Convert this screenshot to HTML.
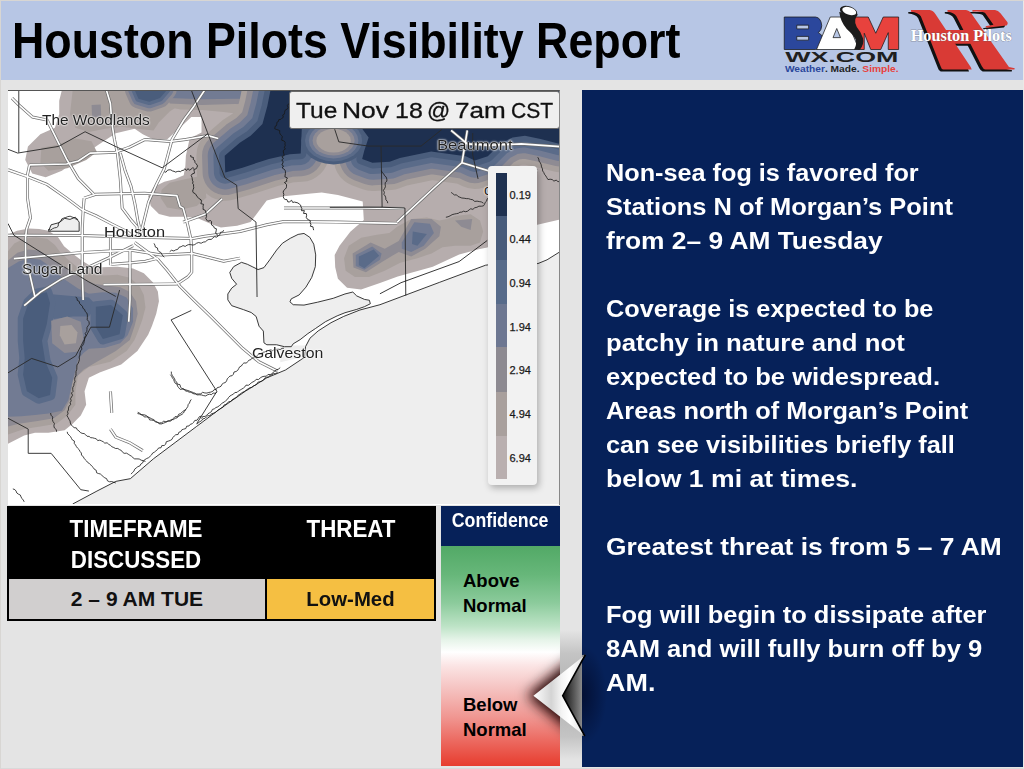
<!DOCTYPE html>
<html><head><meta charset="utf-8">
<style>
*{margin:0;padding:0;box-sizing:border-box}
html,body{width:1024px;height:769px;overflow:hidden;background:#e4e4e4;font-family:"Liberation Sans",sans-serif}
#frame{position:absolute;left:0;top:0;width:1024px;height:769px;border:1px solid #d8d6d3;border-right-color:#ebe9e6;border-bottom-color:#d9d9d9}
#hdr{position:absolute;left:1px;top:1px;width:1022px;height:79px;background:#b7c6e5}
#title{position:absolute;left:11.8px;top:12px;font-size:50px;font-weight:bold;color:#000;white-space:nowrap;transform-origin:0 0;transform:scaleX(0.8955)}
#map{position:absolute;left:8px;top:90px;width:552px;height:415px;overflow:hidden;background:#fff}
#tbl{position:absolute;left:7px;top:506px;width:429px;height:115px;background:#000}
.th{position:absolute;color:#fff;font-weight:bold;font-size:23px;text-align:center;line-height:30.5px;transform:scaleX(0.972)}
.td{position:absolute;top:73px;height:40px;font-weight:bold;font-size:21px;text-align:center;line-height:40px;color:#111}
#conf{position:absolute;left:441px;top:506px;width:119px;height:260px;background:linear-gradient(#52a966 0%,#52a966 15.4%,#67b77a 26.5%,#8ccb9c 37.3%,#bde3c6 46.2%,#e6f4e9 51.5%,#ffffff 56.2%,#fbe4e4 61.5%,#f5c2c0 70.4%,#f09590 81.5%,#ec6b62 90%,#e73c2e 100%)}
#confh{position:absolute;left:0;top:0;width:119px;height:40px;background:#062159;color:#fff;font-weight:bold;font-size:19.5px;text-align:center;line-height:29.4px}
#confh span{display:inline-block;transform:scaleX(0.91)}
.cl{position:absolute;left:22px;font-weight:bold;font-size:18.5px;line-height:24.8px;color:#000}
#panel{position:absolute;left:582px;top:90px;width:441px;height:676.6px;background:#062159}
#ptext{position:absolute;left:24px;top:66px;color:#fff;font-weight:bold;font-size:24.5px;line-height:34px;white-space:nowrap}
#ptext div{height:34px;transform-origin:0 50%}

#datebox{position:absolute;left:289px;top:91px;width:271px;height:38px;background:#efefef;border:1px solid #6a6a6a;border-radius:3px}
#datebox span{position:absolute;top:6.3px;font-size:22.3px;color:#111;white-space:nowrap;transform-origin:0 0;-webkit-text-stroke:0.3px #111}
#legend{position:absolute;left:488px;top:166px;width:49px;height:319px;background:#f2f2f2;border-radius:4px;box-shadow:2px 3px 7px rgba(0,0,0,0.28)}
#legend .seg{position:absolute;left:7.5px;width:11px}
#legend .lab{position:absolute;left:21.5px;font-size:11px;color:#1a1a1a;line-height:12px;-webkit-text-stroke:0.25px #1a1a1a}
.city{position:absolute;font-size:14.5px;color:#222;white-space:nowrap;text-shadow:0 0 2px #fff,0 0 2px #fff,0 0 1px #fff;transform-origin:0 0}
#mapline{position:absolute;left:8px;top:90px;width:552px;height:415px;border-top:1px solid #555;border-right:1px solid #888;pointer-events:none}
</style></head><body>
<div id="frame"></div>
<div id="hdr"></div>

<svg id="bam" width="128" height="76" viewBox="0 0 1024 608" style="position:absolute;left:778px;top:2px">
<path d="M50 120 H300 Q345 125 350 190 Q348 228 322 245 Q362 262 362 320 Q358 376 300 380 H50 Z M150 185 V215 H245 V185 Z M150 275 V305 H245 V275 Z" fill="#2b479c" fill-rule="evenodd" stroke="#1a1a1a" stroke-width="6"/>
<path d="M308 380 L418 120 L540 120 L648 380 Z M440 285 L470 212 L500 285 Z" fill="#ffffff" fill-rule="evenodd" stroke="#1a1a1a" stroke-width="6"/>
<path d="M605 120 H722 L782 250 L842 120 H965 V380 H882 V245 L822 380 H742 L690 250 V380 H640 Z" fill="#e8423d" stroke="#1a1a1a" stroke-width="6"/>
<path d="M490 80 Q500 160 550 215 Q605 265 622 300 Q632 340 608 382 L655 382 Q692 335 680 290 Q665 240 630 200 Q612 170 618 140 Q628 112 640 100 Z" fill="#1c1c1c"/>
<ellipse cx="565" cy="75" rx="72" ry="40" transform="rotate(18 565 75)" fill="#1c1c1c"/>
<ellipse cx="570" cy="72" rx="58" ry="30" transform="rotate(18 570 72)" fill="#ffffff"/>
<text x="510" y="482" text-anchor="middle" font-family="Liberation Sans" font-weight="bold" font-size="124" fill="#1f1f1f" textLength="905" lengthAdjust="spacingAndGlyphs">WX.COM</text>
<text x="55" y="560" font-family="Liberation Sans" font-weight="bold" font-size="78" textLength="910" lengthAdjust="spacingAndGlyphs"><tspan fill="#2b479c">Weather</tspan><tspan fill="#1f1f1f">. Made. </tspan><tspan fill="#e8423d">Simple.</tspan></text>
</svg>
<svg id="hp" width="124" height="76" viewBox="0 0 1024 628" style="position:absolute;left:900px;top:2px">
<g transform="translate(-22,16)" fill="#111">
<path d="M90 66 L245 66 Q275 70 292 100 L585 540 L592 558 L358 558 Q342 556 335 530 L172 118 Q150 84 90 80 Z"/>
<path d="M392 66 L545 66 Q575 70 592 100 L900 538 L948 548 L945 558 L705 558 Q688 554 676 530 L466 118 Q445 84 392 80 Z"/>
<path d="M325 232 L600 232 L640 345 L375 345 Z"/>
<path d="M598 66 L785 66 Q810 70 830 92 L888 168 Q895 185 880 195 L718 212 L705 200 L772 188 L705 92 Q690 75 598 80 Z"/>
</g>
<g fill="#d93a35">
<path d="M90 66 L245 66 Q275 70 292 100 L585 540 L592 558 L358 558 Q342 556 335 530 L172 118 Q150 84 90 80 Z"/>
<path d="M392 66 L545 66 Q575 70 592 100 L900 538 L948 548 L945 558 L705 558 Q688 554 676 530 L466 118 Q445 84 392 80 Z"/>
<path d="M325 232 L600 232 L640 345 L375 345 Z"/>
<path d="M598 66 L785 66 Q810 70 830 92 L888 168 Q895 185 880 195 L718 212 L705 200 L772 188 L705 92 Q690 75 598 80 Z"/>
</g>
<text x="506" y="322" text-anchor="middle" font-family="Liberation Serif" font-weight="bold" font-size="130" fill="#fff" stroke="#555" stroke-width="3" paint-order="stroke" textLength="835" lengthAdjust="spacingAndGlyphs">Houston Pilots</text>
</svg>

<div id="title">Houston Pilots Visibility Report</div>

<div id="map"><svg width="552" height="414" viewBox="0 0 1024 768" style="position:absolute;left:0;top:0">
<!--MAP_START-->
<polygon fill="#eeeeee" points="120.0,768.0 165.0,744.0 200.0,726.0 227.0,721.0 270.0,684.0 310.0,654.0 350.0,624.0 390.0,594.0 440.0,559.0 480.0,534.0 514.8,519.4 550.2,495.8 552.0,476.0 560.2,460.4 575.4,446.9 599.2,431.7 622.7,420.0 652.9,408.1 690.0,398.3 800.0,357.0 886.0,325.0 940.0,318.0 983.0,322.0 1000.0,315.0 1024.0,300.0 1024.0,768.0"/>
<polygon fill="#eeeeee" points="453.0,327.7 463.9,333.1 474.8,329.5 485.6,315.0 498.3,296.9 509.2,284.2 523.7,275.1 538.2,267.9 549.1,266.1 559.9,273.3 567.2,286.0 570.8,305.9 570.1,327.7 563.5,347.6 552.7,365.7 540.0,380.2 525.5,387.4 523.0,392.9 529.1,398.3 549.1,399.0 574.4,393.6 603.4,386.4 625.1,378.4 639.6,374.8 646.9,382.0 661.4,388.5 670.4,390.0 672.2,396.5 661.4,401.9 646.9,407.0 625.1,413.2 610.6,419.0 588.9,429.8 570.8,442.2 556.3,451.9 541.8,463.2 529.1,470.8 525.5,476.2 512.8,476.2 498.3,472.6 480.2,472.6 474.8,469.0 473.7,447.2 465.7,438.2 460.3,420.1 451.2,412.8 436.7,407.4 415.0,400.1 407.8,389.3 407.8,378.4 415.0,367.5 424.1,360.3 415.0,349.4 411.4,338.5 418.6,327.7 433.1,319.7 444.0,323.3"/>
<polygon fill="#eeeeee" points="505.0,474.0 553.0,474.0 550.2,495.8 531.0,499.0 505.0,505.0"/>
<polygon fill="#eeeeee" points="75.0,262.0 80.0,250.0 95.0,246.0 105.0,238.0 115.0,240.0 125.0,236.0 132.0,245.0 132.0,262.0"/>
<polygon fill="#b6adad" points="100.0,0.0 1024.0,0.0 1024.0,240.0 982.0,250.0 940.0,265.0 889.0,292.0 873.0,295.5 837.0,305.0 788.0,328.0 723.0,346.0 690.0,358.0 655.0,370.0 629.0,367.0 612.0,350.0 607.0,329.0 606.0,306.0 615.0,289.0 635.0,263.0 660.0,241.0 658.0,207.0 612.0,195.0 582.0,190.0 562.0,192.0 512.0,197.0 480.0,205.0 465.0,225.0 450.0,245.0 425.0,252.0 395.0,255.0 380.0,250.0 350.0,237.0 325.0,235.0 300.0,235.0 280.0,230.0 265.0,215.0 260.0,197.0 270.0,180.0 290.0,170.0 310.0,165.0 326.0,158.0 329.0,141.0 330.0,122.0 337.0,90.0 359.0,79.0 359.0,50.0 340.0,50.0 318.0,71.0 295.0,92.0 270.0,92.0 250.0,82.0 235.0,72.0 200.0,80.0 167.0,102.0 130.0,128.0 100.0,150.0 70.0,162.0 45.0,155.0 32.0,130.0 37.0,105.0 60.0,82.0 87.0,70.0 95.0,45.0 95.0,20.0"/>
<polygon fill="#b6adad" points="0.0,268.0 17.0,261.0 38.0,257.0 58.0,258.0 75.0,261.0 93.0,273.0 104.0,290.0 122.0,305.0 136.0,316.0 151.0,325.0 174.0,329.0 203.0,328.0 232.0,331.0 252.0,340.0 269.0,357.0 278.0,374.0 280.0,392.0 275.0,415.0 267.0,438.0 260.0,454.0 240.0,484.0 210.0,509.0 170.0,524.0 150.0,534.0 142.0,559.0 145.0,584.0 135.0,604.0 120.0,619.0 105.0,631.0 75.0,636.0 50.0,636.0 30.0,641.0 10.0,651.0 0.0,656.0"/>
<polygon fill="#a8a09d" points="62.0,107.0 90.0,102.0 125.0,90.0 155.0,95.0 165.0,115.0 145.0,130.0 110.0,145.0 75.0,150.0 60.0,135.0"/>
<polygon fill="#a8a09d" points="120.0,0.0 330.0,0.0 330.0,20.0 300.0,40.0 280.0,60.0 270.0,75.0 240.0,72.0 210.0,68.0 180.0,72.0 150.0,78.0 125.0,70.0 115.0,45.0"/>
<polygon fill="#a8a09d" points="285.0,185.0 300.0,172.0 330.0,165.0 355.0,160.0 365.0,175.0 368.0,200.0 350.0,215.0 320.0,222.0 295.0,218.0 283.0,200.0"/>
<polygon fill="#a8a09d" points="0.0,299.0 11.6,284.6 29.0,276.0 52.0,273.0 72.5,276.0 87.0,287.5 95.6,299.0 110.0,313.6 127.5,328.0 145.0,337.0 162.0,342.6 179.7,344.0 203.0,342.6 226.0,348.4 243.4,362.9 252.0,380.3 255.0,403.4 249.0,426.6 240.5,449.8 234.7,463.7 220.0,484.0 190.0,504.0 150.0,514.0 130.0,529.0 125.0,559.0 125.0,584.0 110.0,604.0 90.0,619.0 60.0,624.0 30.0,629.0 0.0,639.0"/>
<polygon fill="#a8a09d" points="623.4,311.9 632.1,288.7 655.3,274.2 684.3,268.4 707.5,265.5 721.9,253.9 748.0,239.4 777.0,236.5 800.2,242.3 814.7,239.4 829.2,233.6 858.2,230.7 875.6,242.3 881.4,262.6 875.6,282.9 858.2,288.7 829.2,288.7 806.0,291.6 785.7,303.2 759.6,311.9 727.7,320.6 698.8,335.1 669.8,346.7 643.7,346.7 626.3,335.1"/>
<polygon fill="#a8a09d" points="290.0,0.0 480.0,0.0 480.0,42.0 440.0,46.0 400.0,41.0 360.0,37.0 320.0,36.0 290.0,30.0"/>
<polygon fill="#8e8b93" points="290.0,0.0 480.0,0.0 480.0,27.0 420.0,26.0 360.0,28.0 300.0,25.0"/>
<polygon fill="#727b93" points="295.0,0.0 480.0,0.0 480.0,16.0 420.0,16.0 360.0,17.0 300.0,15.0"/>
<polygon fill="#a8a09d" stroke="#a8a09d" stroke-width="105.0" stroke-linejoin="round" points="403.0,153.0 402.0,122.0 430.0,98.0 450.0,85.0 472.0,63.0 481.0,30.0 487.0,0.0 1024.0,0.0 1024.0,100.0 988.0,91.0 959.0,85.0 936.0,88.0 913.0,100.0 890.0,123.0 866.0,131.0 849.0,123.0 785.0,114.0 727.0,126.0 708.0,133.0 676.0,135.0 657.0,128.0 661.0,112.0 669.0,88.0 657.0,72.0 545.0,72.0 543.0,118.0 523.0,119.0 484.0,128.0 435.0,144.0"/>
<polygon fill="#8e8b93" stroke="#8e8b93" stroke-width="84.0" stroke-linejoin="round" points="403.0,153.0 402.0,122.0 430.0,98.0 450.0,85.0 472.0,63.0 481.0,30.0 487.0,0.0 1024.0,0.0 1024.0,100.0 988.0,91.0 959.0,85.0 936.0,88.0 913.0,100.0 890.0,123.0 866.0,131.0 849.0,123.0 785.0,114.0 727.0,126.0 708.0,133.0 676.0,135.0 657.0,128.0 661.0,112.0 669.0,88.0 657.0,72.0 545.0,72.0 543.0,118.0 523.0,119.0 484.0,128.0 435.0,144.0"/>
<polygon fill="#727b93" stroke="#727b93" stroke-width="63.0" stroke-linejoin="round" points="403.0,153.0 402.0,122.0 430.0,98.0 450.0,85.0 472.0,63.0 481.0,30.0 487.0,0.0 1024.0,0.0 1024.0,100.0 988.0,91.0 959.0,85.0 936.0,88.0 913.0,100.0 890.0,123.0 866.0,131.0 849.0,123.0 785.0,114.0 727.0,126.0 708.0,133.0 676.0,135.0 657.0,128.0 661.0,112.0 669.0,88.0 657.0,72.0 545.0,72.0 543.0,118.0 523.0,119.0 484.0,128.0 435.0,144.0"/>
<polygon fill="#5a6b89" stroke="#5a6b89" stroke-width="42.0" stroke-linejoin="round" points="403.0,153.0 402.0,122.0 430.0,98.0 450.0,85.0 472.0,63.0 481.0,30.0 487.0,0.0 1024.0,0.0 1024.0,100.0 988.0,91.0 959.0,85.0 936.0,88.0 913.0,100.0 890.0,123.0 866.0,131.0 849.0,123.0 785.0,114.0 727.0,126.0 708.0,133.0 676.0,135.0 657.0,128.0 661.0,112.0 669.0,88.0 657.0,72.0 545.0,72.0 543.0,118.0 523.0,119.0 484.0,128.0 435.0,144.0"/>
<polygon fill="#4a5d7c" stroke="#4a5d7c" stroke-width="21.0" stroke-linejoin="round" points="403.0,153.0 402.0,122.0 430.0,98.0 450.0,85.0 472.0,63.0 481.0,30.0 487.0,0.0 1024.0,0.0 1024.0,100.0 988.0,91.0 959.0,85.0 936.0,88.0 913.0,100.0 890.0,123.0 866.0,131.0 849.0,123.0 785.0,114.0 727.0,126.0 708.0,133.0 676.0,135.0 657.0,128.0 661.0,112.0 669.0,88.0 657.0,72.0 545.0,72.0 543.0,118.0 523.0,119.0 484.0,128.0 435.0,144.0"/>
<polygon fill="#1e3050" points="403.0,153.0 402.0,122.0 430.0,98.0 450.0,85.0 472.0,63.0 481.0,30.0 487.0,0.0 1024.0,0.0 1024.0,100.0 988.0,91.0 959.0,85.0 936.0,88.0 913.0,100.0 890.0,123.0 866.0,131.0 849.0,123.0 785.0,114.0 727.0,126.0 708.0,133.0 676.0,135.0 657.0,128.0 661.0,112.0 669.0,88.0 657.0,72.0 545.0,72.0 543.0,118.0 523.0,119.0 484.0,128.0 435.0,144.0"/>
<polygon fill="#4a5d7c" points="664.0,94.0 662.0,105.4 656.0,116.0 646.4,125.1 634.0,132.1 619.5,136.5 604.0,138.0 588.5,136.5 574.0,132.1 561.6,125.1 552.0,116.0 546.0,105.4 544.0,94.0 546.0,82.6 552.0,72.0 561.6,62.9 574.0,55.9 588.5,51.5 604.0,50.0 619.5,51.5 634.0,55.9 646.4,62.9 656.0,72.0 662.0,82.6"/>
<polygon fill="#5a6b89" points="657.0,94.0 655.2,104.0 649.9,113.2 641.5,121.2 630.5,127.3 617.7,131.2 604.0,132.5 590.3,131.2 577.5,127.3 566.5,121.2 558.1,113.2 552.8,104.0 551.0,94.0 552.8,84.0 558.1,74.8 566.5,66.8 577.5,60.7 590.3,56.8 604.0,55.5 617.7,56.8 630.5,60.7 641.5,66.8 649.9,74.7 655.2,84.0"/>
<polygon fill="#727b93" points="650.0,94.0 648.4,102.5 643.8,110.5 636.5,117.3 627.0,122.6 615.9,125.9 604.0,127.0 592.1,125.9 581.0,122.6 571.5,117.3 564.2,110.5 559.6,102.5 558.0,94.0 559.6,85.5 564.2,77.5 571.5,70.7 581.0,65.4 592.1,62.1 604.0,61.0 615.9,62.1 627.0,65.4 636.5,70.7 643.8,77.5 648.4,85.5"/>
<polygon fill="#8e8b93" points="643.0,94.0 641.7,101.1 637.8,107.8 631.6,113.4 623.5,117.8 614.1,120.6 604.0,121.5 593.9,120.6 584.5,117.8 576.4,113.4 570.2,107.8 566.3,101.1 565.0,94.0 566.3,86.9 570.2,80.2 576.4,74.6 584.5,70.2 593.9,67.4 604.0,66.5 614.1,67.4 623.5,70.2 631.6,74.6 637.8,80.2 641.7,86.9"/>
<polygon fill="#a8a09d" points="636.0,94.0 634.9,99.7 631.7,105.0 626.6,109.6 620.0,113.1 612.3,115.3 604.0,116.0 595.7,115.3 588.0,113.1 581.4,109.6 576.3,105.0 573.1,99.7 572.0,94.0 573.1,88.3 576.3,83.0 581.4,78.4 588.0,74.9 595.7,72.7 604.0,72.0 612.3,72.7 620.0,74.9 626.6,78.4 631.7,83.0 634.9,88.3"/>
<polygon fill="#8e8b93" stroke="#8e8b93" stroke-width="36.0" stroke-linejoin="round" points="235.0,0.0 295.0,0.0 282.0,15.0 262.0,22.0 242.0,16.0"/>
<polygon fill="#727b93" stroke="#727b93" stroke-width="24.0" stroke-linejoin="round" points="235.0,0.0 295.0,0.0 282.0,15.0 262.0,22.0 242.0,16.0"/>
<polygon fill="#5a6b89" stroke="#5a6b89" stroke-width="12.0" stroke-linejoin="round" points="235.0,0.0 295.0,0.0 282.0,15.0 262.0,22.0 242.0,16.0"/>
<polygon fill="#4a5d7c" points="235.0,0.0 295.0,0.0 282.0,15.0 262.0,22.0 242.0,16.0"/>
<polygon fill="#8e8b93" points="155.0,28.0 172.0,27.0 173.0,50.0 156.0,50.0"/>
<polygon fill="#8e8b93" points="0.0,316.5 17.4,302.0 37.7,296.0 58.0,297.7 75.3,307.8 92.7,319.4 116.0,336.8 139.0,351.3 162.0,360.0 185.5,363.0 208.7,365.8 226.0,374.5 237.6,391.8 240.5,415.0 234.7,438.2 226.0,463.7 200.0,484.0 165.0,504.0 140.0,519.0 120.0,539.0 115.0,574.0 105.0,594.0 85.0,609.0 55.0,614.0 20.0,619.0 0.0,624.0"/>
<polygon fill="#727b93" points="0.0,330.0 20.0,318.0 40.0,312.0 60.0,315.0 75.0,325.0 90.0,340.0 110.0,355.0 130.0,368.0 150.0,378.0 175.0,375.0 200.0,376.0 220.0,385.0 232.0,405.0 232.0,430.0 222.0,455.0 208.0,470.0 180.0,478.0 150.0,480.0 140.0,488.0 130.0,500.0 120.0,540.0 112.0,575.0 100.0,595.0 75.0,600.0 50.0,603.0 25.0,605.0 0.0,606.0"/>
<polygon fill="#5a6b89" points="70.0,378.0 150.0,385.0 165.0,400.0 150.0,420.0 120.0,420.0 85.0,425.0 72.0,410.0"/>
<polygon fill="#5a6b89" stroke="#5a6b89" stroke-width="20" stroke-linejoin="round" points="28.0,424.0 38.0,395.0 55.0,378.0 72.0,375.0 78.0,395.0 72.0,434.0 63.0,465.0 69.0,503.0 82.0,534.0 78.0,566.0 57.0,572.0 35.0,559.0 28.0,528.0 31.0,497.0 28.0,465.0"/>
<polygon fill="#5a6b89" stroke="#5a6b89" stroke-width="20" stroke-linejoin="round" points="163.0,402.0 191.0,399.0 213.0,418.0 207.0,453.0 176.0,462.0 163.0,440.0"/>
<polygon fill="#4a5d7c" points="28.0,424.0 38.0,395.0 55.0,378.0 72.0,375.0 78.0,395.0 72.0,434.0 63.0,465.0 69.0,503.0 82.0,534.0 78.0,566.0 57.0,572.0 35.0,559.0 28.0,528.0 31.0,497.0 28.0,465.0"/>
<polygon fill="#4a5d7c" points="163.0,402.0 191.0,399.0 213.0,418.0 207.0,453.0 176.0,462.0 163.0,440.0"/>
<polygon fill="#8e8b93" points="80.0,428.0 110.0,420.0 135.0,430.0 140.0,460.0 132.0,485.0 105.0,488.0 82.0,470.0"/>
<polygon fill="#a8a09d" points="97.0,438.0 118.0,436.0 129.0,450.0 126.0,470.0 105.0,472.0 96.0,455.0"/>
<polygon fill="#8e8b93" points="639.3,303.2 672.7,282.9 698.8,294.5 724.8,280.0 748.0,239.4 785.7,239.4 803.1,253.9 800.2,271.3 774.1,294.5 748.0,309.0 724.8,300.3 695.9,317.7 664.0,338.0 640.8,329.3"/>
<polygon fill="#727b93" points="645.1,306.1 675.6,290.1 693.0,303.2 690.1,314.8 661.1,333.6 645.1,326.4"/>
<polygon fill="#727b93" points="730.6,282.9 753.8,245.2 782.8,248.1 790.1,265.5 771.2,288.7 748.0,300.3 730.6,294.5"/>
<polygon fill="#5a6b89" points="650.9,309.0 678.5,295.9 688.6,307.5 661.1,330.7 650.9,324.9"/>
<polygon fill="#5a6b89" points="750.9,262.6 777.0,266.9 759.6,288.7 749.5,285.8"/>
<polygon fill="#8e8b93" points="829.2,242.3 861.1,239.4 858.2,259.7 840.8,253.9"/>
<polyline points="7.5,15.0 20.0,27.5 45.0,50.0 72.5,55.6 94.2,99.1 108.7,128.1 130.4,164.4 159.4,193.3" fill="none" stroke="#6e6e6e" stroke-width="5.6" stroke-linejoin="round"/>
<polyline points="0.0,148.0 36.2,160.7 72.5,175.2 108.7,200.6 137.7,222.3 163.0,233.2 191.6,248.1 220.5,262.6 232.1,271.3" fill="none" stroke="#6e6e6e" stroke-width="5.6" stroke-linejoin="round"/>
<polyline points="182.5,0.0 190.0,25.0 192.5,60.0 197.5,91.9 203.0,117.0 208.3,164.6 211.8,219.1 229.2,242.3 239.4,253.9 240.8,274.2" fill="none" stroke="#6e6e6e" stroke-width="5.6" stroke-linejoin="round"/>
<polyline points="208.3,117.2 217.4,149.9 228.2,178.8 235.5,211.4 240.8,242.3 243.7,253.9" fill="none" stroke="#6e6e6e" stroke-width="5.6" stroke-linejoin="round"/>
<polyline points="365.0,0.0 345.0,30.0 326.0,55.6 304.3,91.9 289.8,146.2 275.3,175.2 260.8,207.8 249.5,253.9 243.7,274.2" fill="none" stroke="#6e6e6e" stroke-width="5.6" stroke-linejoin="round"/>
<polyline points="39.9,139.0 108.7,137.2 130.4,131.7 152.2,117.2 199.3,115.4 224.6,106.4 253.6,91.9 300.7,95.5 329.7,91.9 371.0,84.6 390.0,90.0" fill="none" stroke="#6e6e6e" stroke-width="5.6" stroke-linejoin="round"/>
<polyline points="39.9,139.0 36.2,157.1 36.2,200.6 41.7,236.8 34.4,258.5 32.6,273.0 32.6,334.0 40.0,340.0 50.0,384.0" fill="none" stroke="#6e6e6e" stroke-width="5.6" stroke-linejoin="round"/>
<polyline points="141.3,200.6 163.0,193.3 253.6,191.5 313.3,196.0 319.1,216.2 324.9,219.1 333.6,251.0 339.4,277.1 340.8,303.2 340.8,337.9 333.6,346.6 316.2,358.2" fill="none" stroke="#6e6e6e" stroke-width="5.6" stroke-linejoin="round"/>
<polyline points="141.3,200.6 139.5,222.3 137.7,258.5 137.7,333.9 139.4,389.5" fill="none" stroke="#6e6e6e" stroke-width="5.6" stroke-linejoin="round"/>
<polyline points="0.0,269.4 133.6,269.8 229.2,272.7 284.3,274.2 342.3,275.6 365.4,271.3 430.4,262.6 480.0,250.0 512.0,244.0 612.0,245.0 722.0,247.5" fill="none" stroke="#6e6e6e" stroke-width="5.6" stroke-linejoin="round"/>
<polyline points="722.0,245.0 792.0,180.0 842.0,135.0 848.0,100.0 852.0,75.0" fill="none" stroke="#6e6e6e" stroke-width="5.6" stroke-linejoin="round"/>
<polyline points="10.9,312.9 133.6,301.7 188.7,298.8 229.2,297.4 284.3,306.0 342.3,303.2 400.2,317.6 430.4,311.9" fill="none" stroke="#6e6e6e" stroke-width="5.6" stroke-linejoin="round"/>
<polyline points="190.1,274.2 190.1,324.9" fill="none" stroke="#6e6e6e" stroke-width="5.6" stroke-linejoin="round"/>
<polyline points="226.3,297.4 226.3,389.5 224.0,430.0" fill="none" stroke="#6e6e6e" stroke-width="5.6" stroke-linejoin="round"/>
<polyline points="235.0,282.9 278.5,314.8 295.9,335.0 319.0,364.0 345.0,390.0 375.0,419.0 410.0,454.0 435.0,479.0 465.0,504.0 500.0,521.5" fill="none" stroke="#6e6e6e" stroke-width="5.6" stroke-linejoin="round"/>
<polyline points="232.1,288.7 185.8,311.9 148.1,329.2 133.6,335.0 100.0,350.0 60.0,375.0 30.0,400.0" fill="none" stroke="#6e6e6e" stroke-width="5.6" stroke-linejoin="round"/>
<polyline points="177.1,361.1 313.3,359.7" fill="none" stroke="#6e6e6e" stroke-width="5.6" stroke-linejoin="round"/>
<polyline points="191.6,323.4 229.2,320.5 255.3,317.6 278.5,311.9" fill="none" stroke="#6e6e6e" stroke-width="5.6" stroke-linejoin="round"/>
<polyline points="324.9,245.2 365.4,230.7 397.3,201.7" fill="none" stroke="#6e6e6e" stroke-width="5.6" stroke-linejoin="round"/>
<polyline points="822.0,75.0 852.0,100.0 892.0,102.5 952.0,100.0 1024.0,105.0" fill="none" stroke="#6e6e6e" stroke-width="5.6" stroke-linejoin="round"/>
<polyline points="842.0,135.0 892.0,150.0 982.0,150.0" fill="none" stroke="#6e6e6e" stroke-width="5.6" stroke-linejoin="round"/>
<polyline points="512.0,219.0 662.0,219.0 734.5,220.0" fill="none" stroke="#6e6e6e" stroke-width="5.6" stroke-linejoin="round"/>
<polyline points="190.0,559.0 192.5,599.0" fill="none" stroke="#6e6e6e" stroke-width="5.6" stroke-linejoin="round"/>
<polyline points="190.0,629.0 200.0,644.0 225.0,654.0 250.0,669.0" fill="none" stroke="#6e6e6e" stroke-width="5.6" stroke-linejoin="round"/>
<polyline points="7.5,15.0 20.0,27.5 45.0,50.0 72.5,55.6 94.2,99.1 108.7,128.1 130.4,164.4 159.4,193.3" fill="none" stroke="#ffffff" stroke-width="3.0" stroke-linejoin="round"/>
<polyline points="0.0,148.0 36.2,160.7 72.5,175.2 108.7,200.6 137.7,222.3 163.0,233.2 191.6,248.1 220.5,262.6 232.1,271.3" fill="none" stroke="#ffffff" stroke-width="3.0" stroke-linejoin="round"/>
<polyline points="182.5,0.0 190.0,25.0 192.5,60.0 197.5,91.9 203.0,117.0 208.3,164.6 211.8,219.1 229.2,242.3 239.4,253.9 240.8,274.2" fill="none" stroke="#ffffff" stroke-width="3.0" stroke-linejoin="round"/>
<polyline points="208.3,117.2 217.4,149.9 228.2,178.8 235.5,211.4 240.8,242.3 243.7,253.9" fill="none" stroke="#ffffff" stroke-width="3.0" stroke-linejoin="round"/>
<polyline points="365.0,0.0 345.0,30.0 326.0,55.6 304.3,91.9 289.8,146.2 275.3,175.2 260.8,207.8 249.5,253.9 243.7,274.2" fill="none" stroke="#ffffff" stroke-width="3.0" stroke-linejoin="round"/>
<polyline points="39.9,139.0 108.7,137.2 130.4,131.7 152.2,117.2 199.3,115.4 224.6,106.4 253.6,91.9 300.7,95.5 329.7,91.9 371.0,84.6 390.0,90.0" fill="none" stroke="#ffffff" stroke-width="3.0" stroke-linejoin="round"/>
<polyline points="39.9,139.0 36.2,157.1 36.2,200.6 41.7,236.8 34.4,258.5 32.6,273.0 32.6,334.0 40.0,340.0 50.0,384.0" fill="none" stroke="#ffffff" stroke-width="3.0" stroke-linejoin="round"/>
<polyline points="141.3,200.6 163.0,193.3 253.6,191.5 313.3,196.0 319.1,216.2 324.9,219.1 333.6,251.0 339.4,277.1 340.8,303.2 340.8,337.9 333.6,346.6 316.2,358.2" fill="none" stroke="#ffffff" stroke-width="3.0" stroke-linejoin="round"/>
<polyline points="141.3,200.6 139.5,222.3 137.7,258.5 137.7,333.9 139.4,389.5" fill="none" stroke="#ffffff" stroke-width="3.0" stroke-linejoin="round"/>
<polyline points="0.0,269.4 133.6,269.8 229.2,272.7 284.3,274.2 342.3,275.6 365.4,271.3 430.4,262.6 480.0,250.0 512.0,244.0 612.0,245.0 722.0,247.5" fill="none" stroke="#ffffff" stroke-width="3.0" stroke-linejoin="round"/>
<polyline points="722.0,245.0 792.0,180.0 842.0,135.0 848.0,100.0 852.0,75.0" fill="none" stroke="#ffffff" stroke-width="3.0" stroke-linejoin="round"/>
<polyline points="10.9,312.9 133.6,301.7 188.7,298.8 229.2,297.4 284.3,306.0 342.3,303.2 400.2,317.6 430.4,311.9" fill="none" stroke="#ffffff" stroke-width="3.0" stroke-linejoin="round"/>
<polyline points="190.1,274.2 190.1,324.9" fill="none" stroke="#ffffff" stroke-width="3.0" stroke-linejoin="round"/>
<polyline points="226.3,297.4 226.3,389.5 224.0,430.0" fill="none" stroke="#ffffff" stroke-width="3.0" stroke-linejoin="round"/>
<polyline points="235.0,282.9 278.5,314.8 295.9,335.0 319.0,364.0 345.0,390.0 375.0,419.0 410.0,454.0 435.0,479.0 465.0,504.0 500.0,521.5" fill="none" stroke="#ffffff" stroke-width="3.0" stroke-linejoin="round"/>
<polyline points="232.1,288.7 185.8,311.9 148.1,329.2 133.6,335.0 100.0,350.0 60.0,375.0 30.0,400.0" fill="none" stroke="#ffffff" stroke-width="3.0" stroke-linejoin="round"/>
<polyline points="177.1,361.1 313.3,359.7" fill="none" stroke="#ffffff" stroke-width="3.0" stroke-linejoin="round"/>
<polyline points="191.6,323.4 229.2,320.5 255.3,317.6 278.5,311.9" fill="none" stroke="#ffffff" stroke-width="3.0" stroke-linejoin="round"/>
<polyline points="324.9,245.2 365.4,230.7 397.3,201.7" fill="none" stroke="#ffffff" stroke-width="3.0" stroke-linejoin="round"/>
<polyline points="822.0,75.0 852.0,100.0 892.0,102.5 952.0,100.0 1024.0,105.0" fill="none" stroke="#ffffff" stroke-width="3.0" stroke-linejoin="round"/>
<polyline points="842.0,135.0 892.0,150.0 982.0,150.0" fill="none" stroke="#ffffff" stroke-width="3.0" stroke-linejoin="round"/>
<polyline points="512.0,219.0 662.0,219.0 734.5,220.0" fill="none" stroke="#ffffff" stroke-width="3.0" stroke-linejoin="round"/>
<polyline points="190.0,559.0 192.5,599.0" fill="none" stroke="#ffffff" stroke-width="3.0" stroke-linejoin="round"/>
<polyline points="190.0,629.0 200.0,644.0 225.0,654.0 250.0,669.0" fill="none" stroke="#ffffff" stroke-width="3.0" stroke-linejoin="round"/>
<polyline points="20.0,0.0 20.0,116.0" fill="none" stroke="#2a2a2a" stroke-width="1.7" stroke-linejoin="round"/>
<polyline points="0.0,110.0 18.0,117.0 94.0,104.6 143.0,77.4 203.0,106.4 286.0,144.4 371.0,81.0" fill="none" stroke="#2a2a2a" stroke-width="1.7" stroke-linejoin="round"/>
<polyline points="340.0,0.0 370.0,78.8 402.5,163.0 424.2,176.6 427.0,220.0 460.0,245.0 462.0,384.0" fill="none" stroke="#2a2a2a" stroke-width="1.7" stroke-linejoin="round"/>
<polyline points="0.0,247.7 10.9,269.4 108.7,331.0 150.0,356.0 200.0,383.0" fill="none" stroke="#2a2a2a" stroke-width="1.7" stroke-linejoin="round"/>
<polyline points="0.0,524.7 43.9,498.0 92.5,513.7 125.5,493.3 153.7,440.0 188.2,440.0 207.0,371.0" fill="none" stroke="#2a2a2a" stroke-width="1.7" stroke-linejoin="round"/>
<polyline points="0.0,609.0 37.5,629.0 37.5,674.0 80.0,674.0 135.0,741.5 150.0,744.0" fill="none" stroke="#2a2a2a" stroke-width="1.7" stroke-linejoin="round"/>
<polyline points="302.5,426.5 340.0,409.0" fill="none" stroke="#2a2a2a" stroke-width="1.7" stroke-linejoin="round"/>
<polyline points="302.5,426.5 387.5,559.0 350.0,619.0" fill="none" stroke="#2a2a2a" stroke-width="1.7" stroke-linejoin="round"/>
<polyline points="606.0,72.7 613.7,96.2 668.5,104.0 766.3,104.0 805.5,72.7" fill="none" stroke="#2a2a2a" stroke-width="1.7" stroke-linejoin="round"/>
<polyline points="692.0,104.0 694.0,217.5 736.4,219.1 737.9,381.4" fill="none" stroke="#2a2a2a" stroke-width="1.7" stroke-linejoin="round"/>
<polyline points="597.0,217.7 694.0,217.5" fill="none" stroke="#2a2a2a" stroke-width="1.7" stroke-linejoin="round"/>
<polyline points="862.0,80.0 862.0,120.0 872.0,165.0" fill="none" stroke="#2a2a2a" stroke-width="1.7" stroke-linejoin="round"/>
<polyline points="120.0,768.0 165.0,744.0 200.0,726.0 227.0,721.0 270.0,684.0 310.0,654.0 350.0,624.0 390.0,594.0 440.0,559.0 480.0,534.0 514.8,519.4 550.2,495.8 552.0,476.0 560.2,460.4 575.4,446.9 599.2,431.7 622.7,420.0 652.9,408.1 690.0,398.3 800.0,357.0 886.0,325.0 940.0,318.0 983.0,322.0 1000.0,315.0 1024.0,300.0" fill="none" stroke="#1a1a1a" stroke-width="1.6" stroke-linejoin="round"/>
<polyline points="453.0,327.7 463.9,333.1 474.8,329.5 485.6,315.0 498.3,296.9 509.2,284.2 523.7,275.1 538.2,267.9 549.1,266.1 559.9,273.3 567.2,286.0 570.8,305.9 570.1,327.7 563.5,347.6 552.7,365.7 540.0,380.2 525.5,387.4 523.0,392.9 529.1,398.3 549.1,399.0 574.4,393.6 603.4,386.4 625.1,378.4 639.6,374.8 646.9,382.0 661.4,388.5 670.4,390.0 672.2,396.5 661.4,401.9 646.9,407.0 625.1,413.2 610.6,419.0 588.9,429.8 570.8,442.2 556.3,451.9 541.8,463.2 529.1,470.8 525.5,476.2 512.8,476.2 498.3,472.6 480.2,472.6 474.8,469.0 473.7,447.2 465.7,438.2 460.3,420.1 451.2,412.8 436.7,407.4 415.0,400.1 407.8,389.3 407.8,378.4 415.0,367.5 424.1,360.3 415.0,349.4 411.4,338.5 418.6,327.7 433.1,319.7 444.0,323.3 453.0,327.7" fill="none" stroke="#1a1a1a" stroke-width="1.6" stroke-linejoin="round"/>
<polyline points="75.0,262.0 80.0,250.0 95.0,246.0 105.0,238.0 115.0,240.0 125.0,236.0 132.0,245.0 132.0,262.0 75.0,262.0" fill="none" stroke="#1a1a1a" stroke-width="1.6" stroke-linejoin="round"/>
<polyline points="690.0,378.0 729.0,357.5 836.8,318.3 888.9,279.2" fill="none" stroke="#1a1a1a" stroke-width="1.6" stroke-linejoin="round"/>
<polyline points="125.5,383.7 127.9,386.4 128.6,390.3 132.1,392.2 132.9,396.1 135.4,398.8 138.2,401.2 139.0,405.0 142.2,407.2 143.2,410.9 146.3,413.7 147.3,417.7 147.2,421.9 147.0,426.3 150.2,429.7 150.8,434.3 148.5,437.5 146.5,440.7 146.5,444.6 146.0,448.4 143.2,451.4 145.0,455.8 141.4,458.7 142.1,462.8 141.4,466.5 140.5,470.1 138.8,473.5 136.2,476.6 137.1,480.7 134.7,483.9 133.6,487.6 133.5,491.6 132.0,495.2 132.6,499.3 131.7,503.1 130.3,506.7 127.9,510.1 127.7,514.0 127.6,518.1 126.2,522.0 126.1,526.0 126.1,530.1 124.1,533.8 123.7,537.4 124.4,541.3 122.6,544.7 122.1,548.3 120.3,551.6 120.0,555.3 120.7,559.1 117.7,562.1 119.7,566.2 117.9,569.4 116.1,572.7 117.2,576.5 115.4,579.8 116.1,583.6 113.3,586.6 112.3,590.0 112.1,593.6 110.4,596.8 111.4,600.7 109.4,604.3 111.4,607.5 113.1,610.8 115.1,613.9 115.7,617.8 117.1,621.3 120.0,623.9 122.7,626.4 126.8,626.8 128.6,630.5 131.7,632.4 134.1,635.3 137.4,636.9 141.4,637.4 144.2,639.7 146.7,642.4 150.5,642.6 153.4,645.0 157.0,645.2 160.4,646.2 163.8,647.1 166.4,650.4 170.4,649.5 173.6,651.0 176.8,652.6 179.5,655.1 183.9,654.5 186.7,657.2 189.9,659.1 192.8,661.8 196.2,663.2 199.5,665.0 203.7,665.0 206.8,667.1 210.2,668.6 212.5,671.9 215.5,674.0 219.9,673.7 223.0,675.6 226.1,677.6 229.2,679.5 231.9,682.1 234.9,684.3 239.2,684.3 243.4,684.5 247.1,686.7 251.1,687.6 255.0,689.0" fill="none" stroke="#1a1a1a" stroke-width="1.5" stroke-linejoin="round"/>
<polyline points="109.8,634.1 110.8,637.8 113.5,640.3 116.0,643.0 117.7,646.2 119.5,649.3 123.2,651.2 122.9,655.7 125.3,658.5 127.0,661.7 129.1,664.4 132.0,667.2 133.6,670.5 136.1,673.4 136.3,677.5 139.6,680.0 141.0,683.0 143.2,685.8 145.8,688.2 147.9,691.1 151.0,693.0 153.6,695.4 155.8,698.2 158.4,700.6 160.3,703.7 163.6,705.4 164.3,710.0 167.6,711.4 171.4,712.4 174.0,714.8 176.7,717.2 179.5,719.4 182.9,720.9 184.6,725.1 188.3,726.7 192.5,726.4 196.3,727.7 200.0,729.0" fill="none" stroke="#1a1a1a" stroke-width="1.5" stroke-linejoin="round"/>
<polyline points="240.6,597.8 243.9,599.5 246.9,601.9 250.3,603.3 252.9,606.6 257.2,606.4 260.7,607.6 262.7,612.0 266.6,612.4 270.5,613.0 273.3,615.8 277.3,616.0 280.0,619.1 284.4,619.5 288.3,618.1 292.2,616.6 295.8,614.3 299.8,613.6 302.9,611.4 307.1,611.4 310.0,609.1 313.7,608.1 316.4,605.2 319.3,603.5 322.9,601.7 325.5,599.2 327.3,596.1 329.4,593.2 331.5,590.3 333.5,587.3 334.2,583.6 336.7,580.7 337.9,577.1 340.0,574.0" fill="none" stroke="#1a1a1a" stroke-width="1.5" stroke-linejoin="round"/>
<polyline points="301.2,528.1 303.4,530.8 305.0,534.1 307.3,536.9 308.4,540.5 310.0,543.8 313.5,545.6 314.5,549.3 316.6,552.2 319.5,555.4 323.5,554.7 326.9,555.4 330.3,556.5 333.6,557.5 337.0,558.7 339.9,561.0 342.9,563.0 346.3,563.9 350.0,563.9 353.8,563.9 357.7,563.7 361.0,560.8 365.1,562.0 369.0,562.2 372.6,561.1 376.4,560.4 380.0,558.9 382.2,556.0 386.3,555.5 388.2,552.1 392.0,551.2 395.2,549.5 396.9,545.9 399.8,543.8 403.5,542.5 405.5,539.5 406.8,535.8 409.2,533.2 411.7,530.7 415.9,529.9 418.2,527.2 419.2,523.2 423.2,522.2 426.1,520.1 427.9,516.9 429.7,513.6 433.0,512.0 435.0,508.8 437.6,506.3 442.3,506.6 444.6,503.7 447.2,501.2 450.6,500.2 453.2,497.1 457.2,496.7 460.5,494.9 462.9,491.5 466.3,490.0 469.7,488.4 473.0,486.6 476.8,485.9 479.9,483.2 483.5,483.2 486.9,481.7 490.9,483.6 494.1,481.3 497.8,481.1 501.4,480.9 505.1,481.4 508.4,479.3 512.0,479.0" fill="none" stroke="#1a1a1a" stroke-width="1.5" stroke-linejoin="round"/>
<polyline points="350.7,620.1 353.1,617.1 356.2,615.2 359.3,613.3 361.5,610.0 365.3,609.2 367.9,606.6 370.7,604.2 375.1,604.4 377.1,600.8 380.7,599.7 384.2,598.5 387.0,596.1 389.7,593.6 392.9,591.9 395.8,589.9 399.1,588.3 400.7,584.4 404.4,583.4 406.7,580.5 409.6,578.4 413.4,577.6 415.7,574.7 418.7,572.7 421.9,571.1 425.1,569.3 427.0,566.0 430.2,564.3 433.1,562.1 436.2,560.2 439.6,558.8 442.2,556.2 445.4,554.5 448.4,552.4 452.3,551.7 455.0,549.2 458.3,547.7 461.5,546.0 463.4,542.2 467.0,541.1 470.6,540.3 473.8,538.3 476.1,534.6 479.5,532.9 483.3,532.2 486.1,529.4 489.6,528.3 492.7,526.1 496.9,526.2 500.0,524.0" fill="none" stroke="#1a1a1a" stroke-width="1.5" stroke-linejoin="round"/>
<polyline points="79.1,599.2 79.8,603.3 83.1,606.7 82.3,611.2 83.5,615.1 86.1,618.6 85.1,623.1 86.1,627.0 89.6,630.0 90.0,634.0" fill="none" stroke="#1a1a1a" stroke-width="1.5" stroke-linejoin="round"/>
<polyline points="9.0,740.0 12.7,741.3 15.0,744.0 16.4,747.6 19.1,749.6 22.9,751.4 24.2,754.9 26.0,758.0 28.4,760.7 30.0,764.0" fill="none" stroke="#1a1a1a" stroke-width="1.5" stroke-linejoin="round"/>
<polyline points="270.8,284.5 272.5,287.7 273.4,291.4 277.3,293.1 277.9,297.1 280.1,299.9 283.6,301.4 285.4,304.6 287.2,307.8 290.0,310.0" fill="none" stroke="#1a1a1a" stroke-width="1.5" stroke-linejoin="round"/>
<polyline points="300.0,300.0 303.1,297.3 307.7,298.6 311.1,296.6 314.8,295.7 317.4,291.7 321.1,290.7 324.7,288.6 328.7,290.2 332.0,287.9 335.5,286.7 339.2,286.9 343.1,287.7 346.6,286.7 349.8,284.3 353.7,282.9 358.3,284.3 362.1,282.2 366.2,281.6 369.4,278.8 372.7,277.1 376.9,277.2 379.9,274.8 382.7,272.1 387.3,272.9 390.3,270.3 393.2,268.2 394.1,264.1 398.3,263.3 400.0,260.0" fill="none" stroke="#1a1a1a" stroke-width="1.5" stroke-linejoin="round"/>
<polyline points="74.6,258.7 79.1,259.9 82.5,257.4 86.1,255.8 90.1,255.1 93.1,252.8 93.4,248.6 95.0,245.3 98.1,243.0 99.7,239.2 103.4,237.6 107.2,236.5 110.8,234.9 115.3,234.1 118.9,235.7 122.7,236.9 126.0,239.5 130.0,240.0" fill="none" stroke="#1a1a1a" stroke-width="1.5" stroke-linejoin="round"/>
<polyline points="692.6,149.6 694.0,153.0 696.9,155.4 698.4,158.7 701.3,161.1 702.8,165.2 702.8,168.9 699.8,172.0 699.7,175.7 700.1,179.5 698.5,182.9 696.4,186.2 698.2,189.6 697.3,193.7 699.7,196.6 700.8,200.0 701.0,203.7 703.6,206.5 704.5,210.0" fill="none" stroke="#1a1a1a" stroke-width="1.5" stroke-linejoin="round"/>
<polyline points="822.0,190.0 825.1,192.2 828.0,194.7 832.2,194.5 834.9,197.6 838.4,198.9 841.9,200.4 846.1,200.7 850.1,201.5 854.3,201.6 858.3,202.9 862.3,203.7 865.8,206.7 870.2,206.2 874.3,207.0 878.3,207.7 882.0,210.0" fill="none" stroke="#1a1a1a" stroke-width="1.5" stroke-linejoin="round"/>
<polyline points="812.3,236.1 816.3,235.2 820.1,233.5 823.8,231.3 827.8,230.2 831.8,229.4 835.3,228.8 838.3,226.7 841.9,226.5 845.1,224.8 849.1,225.8 852.5,224.8 855.4,222.4 858.4,220.3 862.4,221.4 865.9,218.4 869.9,217.6 873.6,215.5 877.9,215.6 881.9,215.0 884.0,212.0 885.2,208.5 888.0,206.0 888.7,202.1 892.0,200.0" fill="none" stroke="#1a1a1a" stroke-width="1.5" stroke-linejoin="round"/>
<polyline points="982.7,124.7 984.6,128.1 985.2,132.0 987.6,135.2 989.1,138.7 989.7,142.6 991.4,146.1 991.8,150.2 993.9,153.1 995.3,156.4 997.6,159.3 999.4,162.4 1001.7,166.2 1005.7,165.5 1009.5,166.1 1012.7,169.0 1016.9,167.2 1020.2,169.9 1024.0,170.0" fill="none" stroke="#1a1a1a" stroke-width="1.5" stroke-linejoin="round"/>
<polyline points="359.2,609.6 361.0,605.8 365.5,605.6 368.6,603.5 371.1,600.6 374.3,598.6 377.4,596.6 379.1,592.6 382.8,591.4 385.7,589.1 389.4,587.7 392.3,585.4 395.3,583.2 397.8,580.3 401.4,578.9 404.0,576.1 407.0,573.9 409.1,570.5 411.7,567.7 414.9,565.8 418.3,564.1 420.8,561.2 425.1,560.9 427.6,558.3 430.7,556.6 433.7,554.8 436.7,553.0 439.4,550.7 441.5,547.5 445.9,547.8 448.8,545.8 451.3,543.2 454.4,541.5 457.5,540.0 460.4,536.7 464.8,537.1 467.8,534.2 471.2,532.1 475.0,531.1 479.2,530.9 482.1,527.9 486.5,527.8 490.1,526.4 492.4,523.1 495.3,520.8 498.7,519.0 502.2,517.5 505.0,515.0" fill="none" stroke="#1a1a1a" stroke-width="1.5" stroke-linejoin="round"/>
<polyline points="228.3,712.6 230.7,709.7 233.5,707.3 235.0,703.4 237.9,701.0 240.8,698.8 244.6,697.4 246.4,693.8 249.7,691.9 251.2,688.1 254.1,685.6 257.3,683.6 260.9,682.0 263.7,679.5 266.3,676.9 268.3,673.5 271.6,671.8 274.4,669.4 277.2,667.2 279.4,664.0 283.8,663.7 285.3,659.7 289.7,659.5 292.5,657.1 293.6,652.5 297.3,651.4 300.9,650.1 304.1,648.2 305.9,644.6 308.4,641.9 311.2,639.5 315.5,639.1 316.9,635.0 320.5,633.7 322.5,630.3 326.1,629.1 329.9,628.0 331.4,623.7 335.7,623.3 338.0,620.3 341.7,619.1 344.4,616.4 346.5,613.0 350.7,612.6 352.9,609.3 355.0,606.0 358.9,605.0" fill="none" stroke="#1a1a1a" stroke-width="1.5" stroke-linejoin="round"/>
<polyline points="302.9,522.4 303.2,526.4 304.9,529.6 307.0,532.7 309.1,535.7 310.1,539.1 312.8,541.8 314.4,545.7 319.0,546.6 320.1,551.0 322.6,553.9 326.5,554.7 329.2,558.4 332.9,558.9 336.2,560.6 340.4,559.9 343.8,561.4 347.3,562.6 350.3,565.6 354.7,565.4 359.0,565.7 363.1,567.0 366.8,567.5 370.0,565.5 373.5,564.3 377.7,565.1 380.5,562.1 384.7,562.7 387.6,560.0" fill="none" stroke="#1a1a1a" stroke-width="1.5" stroke-linejoin="round"/>
<polyline points="240.2,600.2 244.2,601.1 248.2,602.7 252.5,602.5 256.5,603.9 259.7,606.4 263.3,608.2 266.8,610.1 270.5,611.6 273.5,614.4 276.9,616.6 281.0,617.6 285.2,617.3 288.9,614.3 293.4,615.7 297.4,614.0 301.9,614.0 304.8,611.6 307.3,608.6 309.9,605.9 314.6,606.2 316.4,601.7 320.3,600.1 323.3,597.3 326.5,594.7 330.2,592.8" fill="none" stroke="#1a1a1a" stroke-width="1.5" stroke-linejoin="round"/>
<polyline points="338.9,120.6 339.2,124.0 344.0,125.2 343.6,128.9 346.6,131.0 346.9,134.4 349.1,136.9 351.6,140.6 350.5,143.4 349.2,146.1 344.7,147.5 345.6,151.1 345.8,154.4 341.4,155.9 339.8,158.5 341.4,162.3 341.8,164.6 342.1,167.5 343.2,170.1 342.5,173.2 344.3,175.7 344.1,178.6 344.6,181.4 343.5,184.5 342.5,187.6 344.0,190.8 347.2,192.2 349.1,194.7 350.5,197.6 353.0,199.6 355.0,202.0 358.1,203.6 359.1,206.8 357.7,210.8 362.8,212.1 361.8,215.5 362.1,218.4 361.8,221.5 365.9,223.2 366.6,226.0 367.6,228.7 367.8,231.7 368.4,234.5 366.9,238.0 368.7,241.3 370.6,243.4 375.8,242.2 377.7,244.3 377.2,248.8 378.2,250.9 381.6,252.8 382.5,255.9 386.6,257.4 386.2,261.2 385.2,265.3 387.1,267.9 390.0,270.0" fill="none" stroke="#1a1a1a" stroke-width="1.6" stroke-linejoin="round"/>
<polyline points="290.0,151.8 293.0,152.5 296.0,148.7 299.0,148.0 302.0,148.2 305.0,150.1 308.0,150.9 311.0,152.3 314.0,151.2 317.0,150.8 320.3,151.4 322.7,149.2 325.6,149.2 327.9,146.0 331.4,149.2 333.6,145.9 337.1,148.8 339.6,146.9 342.0,144.6 345.0,145.0" fill="none" stroke="#1a1a1a" stroke-width="1.6" stroke-linejoin="round"/>
<polyline points="524.7,22.6 522.8,24.8 519.8,26.4 518.2,28.7 519.6,32.7 518.4,35.3 515.0,36.7 513.5,39.1 513.1,42.0 512.5,44.9 509.5,46.5 510.9,50.5 508.2,52.3 506.2,54.4 502.3,55.0 501.7,58.4 498.9,59.8 498.6,63.4 497.7,66.5 495.8,67.1 494.7,71.7 497.6,73.1 501.0,74.1 504.0,75.4 503.9,79.2 504.9,81.8 507.1,84.1 509.0,86.5 508.0,90.0 507.8,93.2 512.2,94.6 514.2,97.0 513.7,100.3 514.4,103.4 512.6,106.1 514.5,109.5 511.0,111.9 510.8,114.9 511.5,118.1 512.5,121.3 508.1,123.6 511.0,127.1 507.9,129.6 510.4,133.1 509.9,135.4 508.0,138.9 511.1,140.9 508.7,144.6 511.8,146.7 514.1,148.9 514.7,151.7 514.6,154.7 514.2,157.8 513.6,160.9 518.4,163.3 516.7,166.1 517.2,169.3 512.8,171.7 516.7,175.4 516.7,178.5 516.2,181.5 514.0,184.2 511.0,186.9 510.6,190.4 511.7,193.8 510.7,197.4 511.4,200.8 514.2,203.1 517.3,203.2 519.2,207.7 522.3,207.5 526.1,204.6 528.2,208.6 531.4,207.9 534.3,208.6 537.7,209.5 540.3,211.5 542.8,213.4 543.5,216.8 545.1,219.5 544.5,223.9 549.8,223.8 548.2,228.9 553.4,229.3 554.0,232.4 553.2,236.2 554.6,238.9 557.8,240.8 560.9,242.6 560.3,246.3 562.1,248.8 561.0,252.8 565.7,253.8 566.3,257.0 567.0,260.0" fill="none" stroke="#1a1a1a" stroke-width="1.6" stroke-linejoin="round"/>
<!--MAP_END-->
</svg></div>


<div class="city" style="left:42px;top:111.9px;transform:scaleX(1.063)">The Woodlands</div>
<div class="city" style="left:103.8px;top:223.8px;transform:scaleX(1.13)">Houston</div>
<div class="city" style="left:21.8px;top:260.9px;transform:scaleX(1.073)">Sugar Land</div>
<div class="city" style="left:436.6px;top:137px;transform:scaleX(1.145)">Beaumont</div>
<div class="city" style="left:252px;top:345px;transform:scaleX(1.091)">Galveston</div>
<div class="city" style="left:484px;top:182px">c</div>
<div id="datebox"><span style="left:5.8px;transform:scaleX(1.100)">Tue</span><span style="left:51.9px;transform:scaleX(1.187)">Nov</span><span style="left:104.9px;transform:scaleX(1.120)">18</span><span style="left:136.9px;transform:scaleX(1.026)">@</span><span style="left:165.1px;transform:scaleX(1.170)">7am</span><span style="left:220.6px;transform:scaleX(0.946)">CST</span></div>
<div id="legend">
<div class="seg" style="top:7px;height:43px;background:#1f3150"></div>
<div class="seg" style="top:50px;height:44px;background:#475b7b"></div>
<div class="seg" style="top:94px;height:44px;background:#576b8a"></div>
<div class="seg" style="top:138px;height:43px;background:#6d7791"></div>
<div class="seg" style="top:181px;height:45px;background:#8d8a91"></div>
<div class="seg" style="top:226px;height:44px;background:#a9a09d"></div>
<div class="seg" style="top:270px;height:43px;background:#b9afaf"></div>
<div class="lab" style="top:23px">0.19</div>
<div class="lab" style="top:67px">0.44</div>
<div class="lab" style="top:111px">0.94</div>
<div class="lab" style="top:155px">1.94</div>
<div class="lab" style="top:198px">2.94</div>
<div class="lab" style="top:242px">4.94</div>
<div class="lab" style="top:286px">6.94</div>
</div>
<div id="mapline"></div>

<div id="tbl">
  <div class="th" style="left:0;width:258px;top:8.3px">TIMEFRAME<br>DISCUSSED</div>
  <div class="th" style="left:259px;width:170px;top:8.3px">THREAT</div>
  <div class="td" style="left:2px;width:256px;background:#d1cfcf">2 – 9 AM TUE</div>
  <div class="td" style="left:260px;width:167px;background:#f5bf42"><span style="display:inline-block;transform:scaleX(0.97)">Low-Med</span></div>
</div>

<div id="conf">
  <div id="confh"><span>Confidence</span></div>
  <div class="cl" style="top:63.3px">Above<br>Normal</div>
  <div class="cl" style="top:187.3px">Below<br>Normal</div>
</div>

<div id="panel">
  <div id="ptext">
    <div style="transform:scaleX(1.030)">Non-sea fog is favored for</div>
    <div style="transform:scaleX(1.039)">Stations N of Morgan’s Point</div>
    <div style="transform:scaleX(1.075)">from 2– 9 AM Tuesday</div>
    <div></div>
    <div style="transform:scaleX(1.032)">Coverage is expected to be</div>
    <div style="transform:scaleX(1.050)">patchy in nature and not</div>
    <div style="transform:scaleX(1.044)">expected to be widespread.</div>
    <div style="transform:scaleX(1.034)">Areas north of Morgan’s Point</div>
    <div style="transform:scaleX(1.033)">can see visibilities briefly fall</div>
    <div style="transform:scaleX(1.086)">below 1 mi at times.</div>
    <div></div>
    <div style="transform:scaleX(1.075)">Greatest threat is from 5 – 7 AM</div>
    <div></div>
    <div style="transform:scaleX(1.039)">Fog will begin to dissipate after</div>
    <div style="transform:scaleX(1.043)">8AM and will fully burn off by 9</div>
    <div style="transform:scaleX(1.100)">AM.</div>
  </div>
</div>

<div style="position:absolute;left:560px;top:630px;width:22px;height:130px;background:linear-gradient(#e4e4e4,#c4c4c4 18%,#b0b0b0 50%,#c4c4c4 82%,#e4e4e4)"></div>
<div style="position:absolute;left:582px;top:645px;width:25px;height:100px;background:radial-gradient(ellipse 25px 50px at 0px 50px, rgba(0,0,20,0.55), rgba(0,0,20,0) 100%)"></div>
<svg width="110" height="130" viewBox="490 630 110 130" style="position:absolute;left:490px;top:630px">
<defs>
<filter id="ash" x="-50%" y="-50%" width="200%" height="200%"><feGaussianBlur stdDeviation="6.5"/></filter>
<linearGradient id="ag" x1="533" y1="0" x2="585" y2="0" gradientUnits="userSpaceOnUse"><stop offset="0" stop-color="#ffffff"/><stop offset="0.35" stop-color="#d4d4d4"/><stop offset="0.55" stop-color="#f4f4f4"/><stop offset="0.7" stop-color="#ffffff"/><stop offset="1" stop-color="#e0e0e0"/></linearGradient>
<linearGradient id="ad" x1="563" y1="0" x2="582" y2="0" gradientUnits="userSpaceOnUse"><stop offset="0" stop-color="#111"/><stop offset="1" stop-color="#8a8a8a"/></linearGradient>
<clipPath id="acl"><rect x="490" y="630" width="70" height="130"/></clipPath>
</defs>
<g clip-path="url(#acl)"><polygon points="527,695.7 585,647 585,744" fill="#200303" opacity="1" filter="url(#ash)"/></g>
<polygon points="585.4,654.75 562.7,695.7 584.8,736 582,736 582,655" fill="url(#ad)"/>
<polygon points="533.4,695.7 585.4,654.75 562.7,695.7 584.8,736" fill="url(#ag)"/>
<polyline points="585.4,654.75 562.7,695.7 584.8,736" fill="none" stroke="#000" stroke-width="1.6"/>
</svg>

</body></html>
